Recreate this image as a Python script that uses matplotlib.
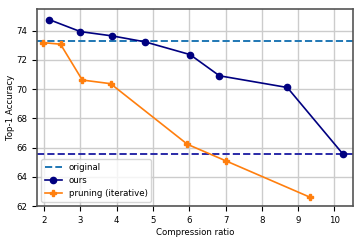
import matplotlib
matplotlib.use("Agg")
import matplotlib.pyplot as plt

ours_ratio = [2.14, 3.0, 3.87, 4.78, 6.02, 6.83, 8.70, 10.23]
ours_acc = [74.75, 73.93, 73.64, 73.23, 72.36, 70.91, 70.11, 65.57]

prune_ratio = [1.96, 2.45, 3.05, 3.83, 5.95, 7.0, 9.33]
prune_acc = [73.18, 73.07, 70.62, 70.37, 66.22, 65.1, 62.6]

original_acc = 73.28
ours_last_acc = 65.57

plt.rcParams["font.size"] = 6.2

fig, ax = plt.subplots(figsize=(3.62, 2.41), dpi=100)
ax.axhline(original_acc, color="tab:blue", linestyle="--", linewidth=1.4, label="original")
ax.axhline(ours_last_acc, color="#2a2aa8", linestyle="--", linewidth=1.4)
ax.plot(ours_ratio, ours_acc, color="navy", marker="o", markersize=4.5, linewidth=1.2, label="ours")
ax.plot(prune_ratio, prune_acc, color="tab:orange", marker="P", markersize=4.5, linewidth=1.2,
        label="pruning (iterative)")

ax.set_xlim(1.8, 10.5)
ax.set_ylim(62, 75.5)
ax.set_xticks(range(2, 11))
ax.set_yticks(range(62, 75, 2))
ax.grid(True, color="#cccccc", linewidth=1)
ax.set_axisbelow(True)
for s in ax.spines.values():
    s.set_color("#555555")
    s.set_linewidth(1.2)
ax.set_xlabel("Compression ratio", labelpad=2)
ax.set_ylabel("Top-1 Accuracy", labelpad=1)
ax.legend(loc="lower left")

fig.subplots_adjust(left=0.102, right=0.974, top=0.964, bottom=0.145)
fig.savefig("out.png", dpi=100)
